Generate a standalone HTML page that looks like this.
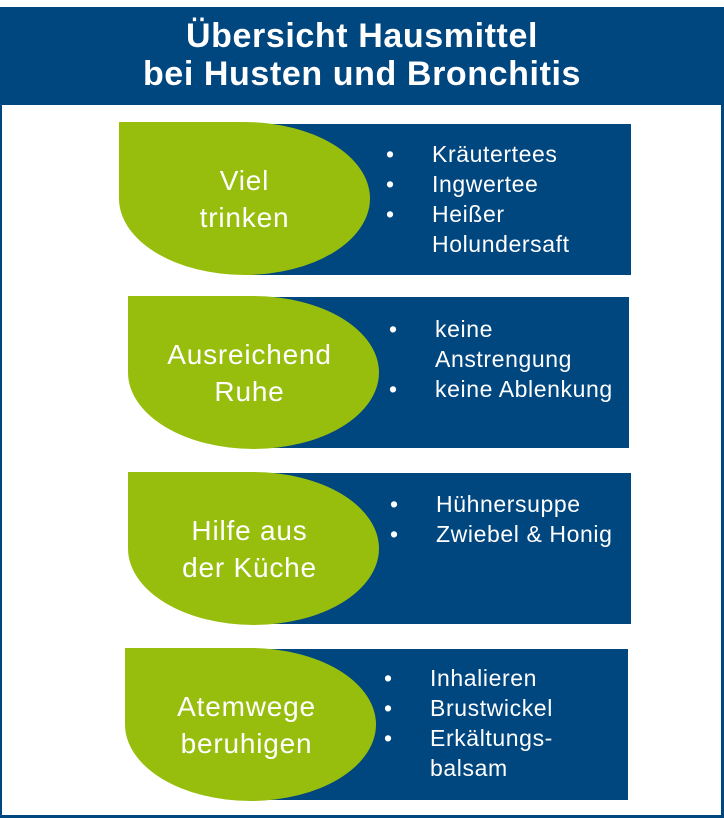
<!DOCTYPE html>
<html><head><meta charset="utf-8"><style>
body{margin:0;width:724px;height:818px;background:#fff;position:relative;overflow:hidden;font-family:"Liberation Sans",sans-serif;color:#fff}
.frame{position:absolute;left:0;top:7px;width:719px;height:808px;border:2px solid #00467f;border-top:none;border-right-width:3px;border-bottom-width:3px}
.head{position:absolute;left:0;top:7px;width:724px;height:98px;background:#00467f;text-align:center;font-weight:bold;font-size:34px;letter-spacing:0.6px;line-height:38px;padding-top:10px;box-sizing:border-box}
.rect{position:absolute;background:#00467f;height:151px}
.leaf{position:absolute;background:#97be0d;width:251px;height:153px;border-radius:0 50% 50% 50% / 0 50% 50% 50%;display:flex;align-items:center;justify-content:center;text-align:center;font-size:28px;letter-spacing:0.8px;line-height:37px}
ul{position:absolute;margin:0;padding:0;list-style:none;font-size:23px;letter-spacing:0.6px;line-height:30px}
li{position:relative;padding-left:46px}
li:before{content:"•";position:absolute;left:0}
</style></head><body>
<div class="frame"></div>
<div class="head">Übersicht Hausmittel<br>bei Husten und Bronchitis</div>

<div class="rect" style="left:250px;top:124px;width:381px"></div>
<div class="leaf" style="left:119px;top:122px">Viel<br>trinken</div>
<ul style="left:386px;top:139px"><li>Kräutertees</li><li>Ingwertee</li><li>Heißer<br>Holundersaft</li></ul>

<div class="rect" style="left:250px;top:297px;width:379px"></div>
<div class="leaf" style="left:128px;top:296px;padding-right:8px;box-sizing:border-box">Ausreichend<br>Ruhe</div>
<ul style="left:389px;top:314px"><li>keine<br>Anstrengung</li><li>keine Ablenkung</li></ul>

<div class="rect" style="left:250px;top:473px;width:381px"></div>
<div class="leaf" style="left:128px;top:472px;padding-right:8px;box-sizing:border-box">Hilfe aus<br>der Küche</div>
<ul style="left:390px;top:489px"><li>Hühnersuppe</li><li>Zwiebel &amp; Honig</li></ul>

<div class="rect" style="left:250px;top:649px;width:378px"></div>
<div class="leaf" style="left:125px;top:648px;padding-right:8px;box-sizing:border-box">Atemwege<br>beruhigen</div>
<ul style="left:384px;top:663px"><li>Inhalieren</li><li>Brustwickel</li><li>Erkältungs-<br>balsam</li></ul>
</body></html>
